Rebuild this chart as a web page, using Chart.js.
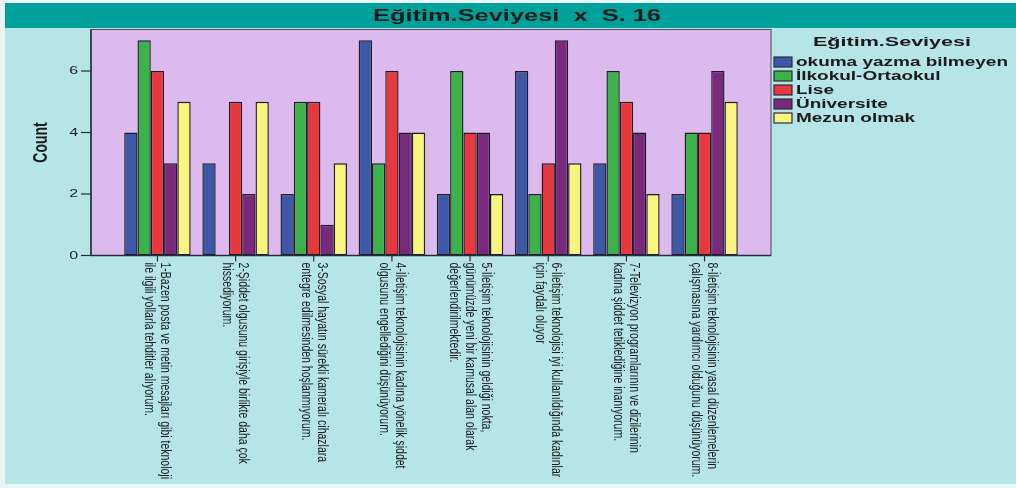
<!DOCTYPE html>
<html>
<head>
<meta charset="utf-8">
<script src="https://cdn.jsdelivr.net/npm/chart.js@4"></script>
<style>
  body { margin: 0; background: #eaf6f6; }
  canvas { display: block; }
</style>
</head>
<body>
<canvas id="c" width="1016" height="488"></canvas>
<script>
// categories (multi-line labels, as printed under each group)
const categories = [
  ["1-Bazen posta ve metin mesajları gibi teknoloji", "ile ilgili yollarla tehditler alıyorum."],
  ["2-Şiddet olgusunu girişiyle birlikte daha çok", "hissediyorum."],
  ["3-Sosyal hayatın sürekli kameralı cihazlara", "entegre edilmesinden hoşlanmıyorum."],
  ["4-İletişim teknolojisinin kadına yönelik şiddet", "olgusunu engellediğini düşünüyorum."],
  ["5-İletişim teknolojisinin geldiği nokta,", "günümüzde yeni bir kamusal alan olarak", "değerlendirilmektedir."],
  ["6-İletişim teknolojisi iyi kullanıldığında kadınlar", "için faydalı oluyor"],
  ["7-Televizyon programlarının ve dizilerinin", "kadına şiddet tetiklediğine inanıyorum."],
  ["8-İletişim teknolojisinin yasal düzenlemelerin", "çalışmasına yardımcı olduğunu düşünüyorum."]
];

const seriesNames = ["okuma yazma bilmeyen", "İlkokul-Ortaokul", "Lise", "Üniversite", "Mezun olmak"];
const okumaYazma = [4, 3, 2, 7, 2, 6, 3, 2];
const ilkokul    = [7, 0, 5, 3, 6, 2, 6, 4];
const lise       = [6, 5, 5, 6, 4, 3, 5, 4];
const universite = [3, 2, 1, 4, 4, 7, 4, 6];
const mezun      = [5, 5, 3, 4, 2, 3, 2, 5];
const yTicks = [0, 2, 4, 6];

const chartTitle = "Eğitim.Seviyesi  x  S. 16";
const legendTitle = "Eğitim.Seviyesi";
const yTitle = "Count";

const seriesValues = [okumaYazma, ilkokul, lise, universite, mezun];
const colors = ["#3d58a6", "#3bb34a", "#e8383d", "#7a2a7c", "#f9f47c"];

const SX = 1.45; // the original picture is stretched sideways
const ink = "#1a1a1a";

function stretched(ctx, txt, x, y, font, sx, align) {
  ctx.save();
  ctx.font = font;
  ctx.textBaseline = "middle";
  ctx.textAlign = align;
  ctx.translate(x, y);
  ctx.scale(sx, 1);
  ctx.fillText(txt, 0, 0);
  ctx.restore();
}
function fitTo(ctx, txt, font, w) {
  ctx.font = font;
  return w / ctx.measureText(txt).width;
}

const decor = {
  id: "decor",
  beforeDraw(chart) {
    const ctx = chart.ctx, a = chart.chartArea;
    ctx.save();
    ctx.fillStyle = "#b6e5e7";
    ctx.fillRect(5, 3, 1011, 481);
    ctx.fillStyle = "#00a19b";
    ctx.fillRect(5, 3, 1011, 25);
    ctx.fillStyle = "#dcbaee";
    ctx.fillRect(a.left, a.top, a.right - a.left, a.bottom - a.top);
    ctx.restore();
  },
  afterDraw(chart) {
    const ctx = chart.ctx, a = chart.chartArea;
    const xs = chart.scales.x, ys = chart.scales.y;
    ctx.save();

    // frame + axes
    ctx.strokeStyle = "#4a4a5a";
    ctx.lineWidth = 1;
    ctx.strokeRect(a.left, a.top, a.right - a.left, a.bottom - a.top);
    ctx.strokeStyle = "#2a2a3a";
    ctx.lineWidth = 1.5;
    ctx.beginPath();
    ctx.moveTo(a.left, a.top);
    ctx.lineTo(a.left, a.bottom);
    ctx.lineTo(a.right, a.bottom);
    ctx.stroke();

    // y ticks
    ctx.fillStyle = ink;
    ctx.lineWidth = 1.2;
    yTicks.forEach(v => {
      const py = ys.getPixelForValue(v);
      ctx.beginPath();
      ctx.moveTo(a.left - 10, py);
      ctx.lineTo(a.left, py);
      ctx.stroke();
      stretched(ctx, String(v), a.left - 13, py, "11px Arial", SX, "right");
    });

    // y title
    ctx.save();
    ctx.translate(41, (a.top + a.bottom) / 2);
    ctx.rotate(-Math.PI / 2);
    ctx.scale(1, SX);
    ctx.font = "bold 14px Arial";
    ctx.textAlign = "center";
    ctx.textBaseline = "middle";
    ctx.fillText(yTitle, 0, 0);
    ctx.restore();

    // x ticks + rotated labels
    categories.forEach((lines, i) => {
      const tx = xs.getPixelForValue(i + 1);
      ctx.beginPath();
      ctx.moveTo(tx, a.bottom);
      ctx.lineTo(tx, a.bottom + 6);
      ctx.stroke();
      ctx.save();
      ctx.translate(tx, a.bottom + 7);
      ctx.rotate(Math.PI / 2);
      ctx.scale(1, SX);
      ctx.font = "10.5px Arial";
      ctx.textAlign = "left";
      ctx.textBaseline = "middle";
      const n = lines.length;
      lines.forEach((ln, k) => ctx.fillText(ln, 0, (k - (n - 1) / 2) * 11));
      ctx.restore();
    });

    // title
    const tf = "bold 17px Arial";
    stretched(ctx, chartTitle, 517, 16, tf, fitTo(ctx, chartTitle, tf, 288), "center");

    // legend
    const lf = "bold 13.5px Arial";
    stretched(ctx, legendTitle, 892, 42, lf, fitTo(ctx, legendTitle, lf, 158), "center");
    const itf = "bold 12.5px Arial";
    const isx = fitTo(ctx, seriesNames[0], itf, 212);
    chart.data.datasets.forEach((ds, k) => {
      const cy = 62 + k * 14;
      ctx.fillStyle = ds.backgroundColor;
      ctx.fillRect(774, cy - 5, 18, 10);
      ctx.strokeStyle = "#2a2a3a";
      ctx.lineWidth = 1.2;
      ctx.strokeRect(774, cy - 5, 18, 10);
      ctx.fillStyle = ink;
      stretched(ctx, ds.label, 796, cy + 0.5, itf, isx, "left");
    });
    ctx.restore();
  }
};

new Chart(document.getElementById("c"), {
  type: "bar",
  data: {
    datasets: seriesNames.map((name, k) => ({
      label: name,
      data: seriesValues[k].map((v, i) => ({ x: i + 1, y: v })),
      backgroundColor: colors[k],
      borderColor: "#1c1c24",
      borderWidth: 1.4,
      borderSkipped: false,
      categoryPercentage: 0.85,
      barPercentage: 1
    }))
  },
  options: {
    responsive: false,
    animation: false,
    devicePixelRatio: 1,
    layout: { padding: { left: 91, right: 245, top: 29.5, bottom: 232.5 } },
    scales: {
      x: {
        type: "linear", display: false, offset: false, min: 0.15, max: 8.85,
        afterBuildTicks: s => { s.ticks = categories.map((_, i) => ({ value: i + 1 })); }
      },
      y: { display: false, min: 0, max: 7.35 }
    },
    plugins: { legend: { display: false }, tooltip: { enabled: false } }
  },
  plugins: [decor]
});
</script>
</body>
</html>
